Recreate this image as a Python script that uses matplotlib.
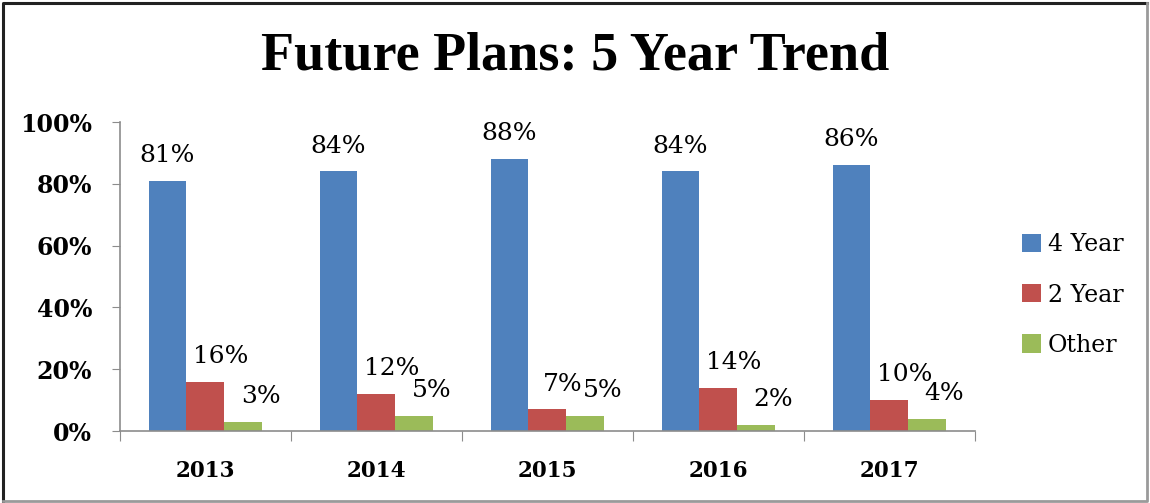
"""Future Plans bar chart: 5-year trend of 4-year / 2-year / other plans."""
import matplotlib
matplotlib.use("Agg")
import matplotlib.pyplot as plt
import numpy as np
from matplotlib.lines import Line2D

years = ["2013", "2014", "2015", "2016", "2017"]
four_year = [81, 84, 88, 84, 86]
two_year = [16, 12, 7, 14, 10]
other = [3, 5, 5, 2, 4]

series = [("4 Year", four_year, "#4F81BD"),
          ("2 Year", two_year, "#C0504D"),
          ("Other", other, "#9BBB59")]

LABEL_FONT = "DejaVu Serif"
AXIS_GREY = "#8C8C8C"

fig = plt.figure(figsize=(11.5, 5.03), dpi=100)
ax = fig.add_axes([0.1043, 0.1431, 0.7435, 0.6143])

x = np.arange(len(years))
w = 0.222
label_dx = [0.0, 0.09, 0.10]
for i, (name, vals, color) in enumerate(series):
    pos = x + (i - 1) * w
    ax.bar(pos, np.array(vals) / 100, width=w, color=color, label=name)
    for p, v in zip(pos, vals):
        ax.annotate(f"{v}%", (p + label_dx[i], v / 100), xytext=(0, 10),
                    textcoords="offset points", ha="center", va="bottom",
                    fontsize=18, family=LABEL_FONT)

ax.set_xlim(-0.5, len(years) - 0.5)
ax.set_ylim(0, 1)
ax.set_yticks(np.arange(0, 1.01, 0.2))
ax.set_yticklabels([f"{int(t * 100)}%" for t in np.arange(0, 1.01, 0.2)],
                   fontsize=17, family=LABEL_FONT, fontweight="bold")
# year labels sit on minor ticks, the visible tick marks split the categories
ax.set_xticks(np.arange(-0.5, len(years)), labels=[""] * (len(years) + 1))
ax.set_xticks(x, labels=years, minor=True)
for lab in ax.get_xticklabels(minor=True):
    lab.set_fontsize(15.5)
    lab.set_family(LABEL_FONT)
    lab.set_fontweight("bold")
ax.tick_params(axis="x", which="major", direction="out", length=7,
               color=AXIS_GREY)
ax.tick_params(axis="x", which="minor", length=0, pad=21)
ax.tick_params(axis="y", direction="out", length=6, color=AXIS_GREY, pad=14)

for s in ("top", "right"):
    ax.spines[s].set_visible(False)
for s in ("left", "bottom"):
    ax.spines[s].set_color(AXIS_GREY)
    ax.spines[s].set_linewidth(1.2)

ax.legend(loc="center left", bbox_to_anchor=(1.03, 0.44), frameon=False,
          prop={"family": LABEL_FONT, "size": 17}, handlelength=0.8,
          handleheight=0.8, handletextpad=0.3, labelspacing=1.15)

fig.text(0.5, 0.887, "Future Plans: 5 Year Trend", ha="center", va="center",
         fontsize=39, fontweight="bold", family="Liberation Serif")

# chart frame: dark top/left edge, lighter bottom/right edge
fig.add_artist(Line2D([0.003, 0.003, 0.997], [0.004, 0.994, 0.994],
                      transform=fig.transFigure, color="#222222", lw=2.2))
fig.add_artist(Line2D([0.003, 0.997, 0.997], [0.004, 0.004, 0.994],
                      transform=fig.transFigure, color="#9A9A9A", lw=2.0))

fig.savefig("out.png", dpi=100, facecolor="white")
